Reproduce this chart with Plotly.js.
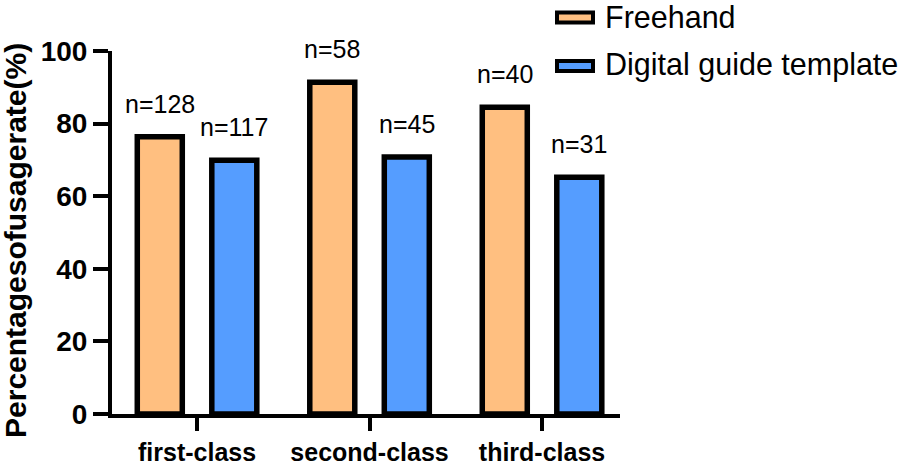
<!DOCTYPE html>
<html>
<head>
<meta charset="utf-8">
<script src="https://cdn.plot.ly/plotly-3.0.1.min.js"></script>
<style>
html,body{margin:0;padding:0;background:#fff;}
#chart{width:898px;height:468px;}
</style>
</head>
<body>
<div id="chart"></div>
<script>
// ---- data ----
const categories = ['first-class', 'second-class', 'third-class'];
const seriesNames = ['Freehand', 'Digital guide template'];
const freehandValues = [76.4, 91.4, 84.5];
const digitalValues = [69.9, 70.8, 65.2];
const freehandN = ['n=128', 'n=58', 'n=40'];
const digitalN = ['n=117', 'n=45', 'n=31'];
const yTickValues = [0, 20, 40, 60, 80, 100];
const yTitle = 'Percentagesofusagerate(%)';

// ---- style ----
const colors = ['#FFBF80', '#559DFF'];
const W = 898, H = 468;
const M = {l: 112, r: 278, t: 50.5, b: 53.5};
const plotW = W - M.l - M.r, plotH = H - M.t - M.b;
const px2x = p => (p - M.l) / plotW;
const py2y = p => (H - M.b - p) / plotH;
const font = 'Liberation Sans, Arial, Helvetica, sans-serif';

const barLine = {color: '#000', width: 5.5};
const traces = [
  {type: 'bar', name: seriesNames[0], x: categories, y: freehandValues,
   marker: {color: colors[0], line: barLine}, showlegend: false, hoverinfo: 'x+y'},
  {type: 'bar', name: seriesNames[1], x: categories, y: digitalValues,
   marker: {color: colors[1], line: barLine}, showlegend: false, hoverinfo: 'x+y'}
];

const annotations = [];
const offs = [-37.25, 37.25];
[[freehandValues, freehandN], [digitalValues, digitalN]].forEach((pair, s) => {
  pair[0].forEach((v, i) => {
    annotations.push({
      x: categories[i], y: v, xref: 'x', yref: 'y',
      text: pair[1][i], showarrow: false,
      xanchor: 'center', yanchor: 'bottom',
      xshift: offs[s], yshift: 17,
      font: {family: font, size: 25, color: '#000'}
    });
  });
});

// custom legend (wide swatches)
const legendRows = [17, 65.5];
const shapes = [];
seriesNames.forEach((name, s) => {
  const cy = legendRows[s];
  shapes.push({
    type: 'rect', xref: 'paper', yref: 'paper', layer: 'above',
    x0: px2x(557), x1: px2x(593), y0: py2y(cy - 5), y1: py2y(cy + 5),
    fillcolor: colors[s], line: {color: '#000', width: 4}
  });
  annotations.push({
    xref: 'paper', yref: 'paper', x: px2x(603), y: py2y(cy - 1),
    xanchor: 'left', yanchor: 'middle', showarrow: false,
    text: name, font: {family: font, size: 30.5, color: '#000'}
  });
});

// y-axis title
annotations.push({
  xref: 'paper', yref: 'paper', x: px2x(16), y: py2y(241),
  xanchor: 'center', yanchor: 'middle', showarrow: false, textangle: -90,
  text: yTitle, font: {family: font, size: 30, color: '#000', weight: 'bold'}
});

const layout = {
  width: W, height: H,
  margin: M,
  paper_bgcolor: '#fff', plot_bgcolor: '#fff',
  barmode: 'group', bargap: 0.136, bargroupgap: 0.396,
  showlegend: false,
  font: {family: font, color: '#000'},
  xaxis: {
    type: 'category', range: [-0.493, 2.452],
    showline: true, linecolor: '#000', linewidth: 4,
    ticks: 'outside', ticklen: 13, tickwidth: 4, tickcolor: '#000',
    showgrid: false, zeroline: false,
    tickfont: {family: font, size: 25, color: '#000', weight: 'bold'},
    fixedrange: true
  },
  yaxis: {
    range: [0, 100], tickvals: yTickValues,
    showline: true, linecolor: '#000', linewidth: 4,
    ticks: 'outside', ticklen: 15, tickwidth: 4, tickcolor: '#000',
    showgrid: false, zeroline: false,
    tickfont: {family: font, size: 28, color: '#000', weight: 'bold'},
    fixedrange: true
  },
  annotations: annotations,
  shapes: shapes
};

Plotly.newPlot('chart', traces, layout, {displayModeBar: false, staticPlot: true});
</script>
</body>
</html>
